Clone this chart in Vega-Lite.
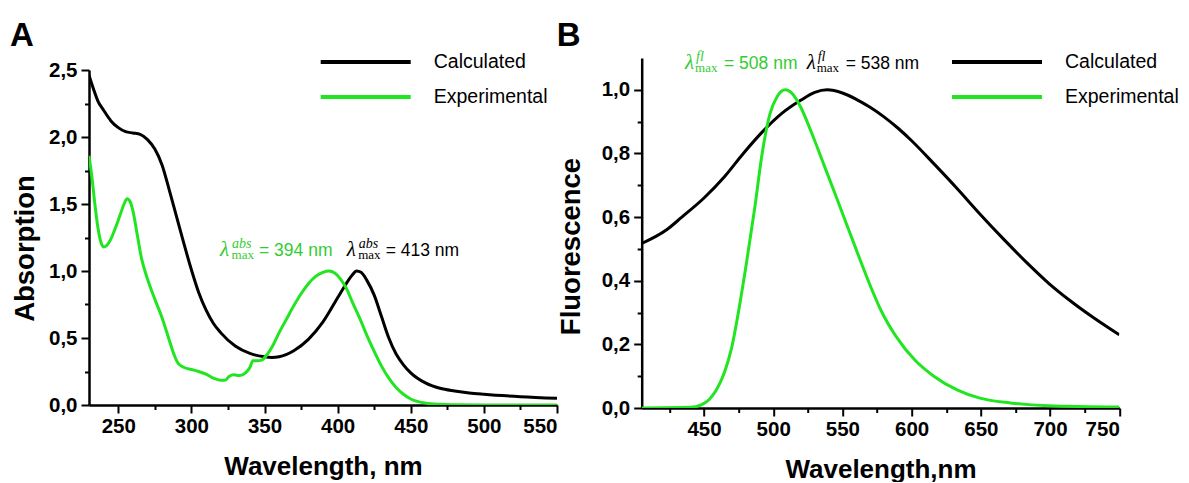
{
  "$schema": "https://vega.github.io/schema/vega-lite/v6.json",
  "padding": {"left": 10, "top": 20, "right": 5, "bottom": 0},
  "background": "white",
  "config": {
    "view": {"stroke": null},
    "font": "Liberation Sans",
    "axis": {"domainColor": "black", "domainWidth": 2.5, "tickColor": "black", "tickWidth": 2, "labelFont": "Liberation Sans", "labelFontWeight": "bold", "labelFontSize": 20.5, "labelColor": "black", "titleFont": "Liberation Sans", "titleFontWeight": "bold", "titleFontSize": 26, "titleColor": "black", "grid": false, "labelOverlap": false},
    "legend": {"orient": "none", "title": null, "symbolType": "M-3,0H3", "symbolSize": 900, "symbolStrokeWidth": 4, "labelFontSize": 19.5, "labelFont": "Liberation Sans", "labelColor": "black", "labelOffset": 51, "rowPadding": 8, "padding": 0},
    "title": {"anchor": "start", "frame": "group", "fontSize": 33, "fontWeight": "bold", "font": "Liberation Sans", "color": "black", "offset": -8}
  },
  "datasets": {
    "absA": [
      {"series": "Calculated", "wavelength": 230, "value": 2.46}, {"series": "Calculated", "wavelength": 233, "value": 2.36}, {"series": "Calculated", "wavelength": 236, "value": 2.27}, {"series": "Calculated", "wavelength": 240, "value": 2.2}, {"series": "Calculated", "wavelength": 245, "value": 2.12}, {"series": "Calculated", "wavelength": 250, "value": 2.07}, {"series": "Calculated", "wavelength": 255, "value": 2.04}, {"series": "Calculated", "wavelength": 260, "value": 2.03}, {"series": "Calculated", "wavelength": 265, "value": 2.02}, {"series": "Calculated", "wavelength": 270, "value": 1.98}, {"series": "Calculated", "wavelength": 275, "value": 1.91}, {"series": "Calculated", "wavelength": 280, "value": 1.79}, {"series": "Calculated", "wavelength": 285, "value": 1.6}, {"series": "Calculated", "wavelength": 290, "value": 1.4}, {"series": "Calculated", "wavelength": 295, "value": 1.2}, {"series": "Calculated", "wavelength": 300, "value": 1.01}, {"series": "Calculated", "wavelength": 305, "value": 0.84}, {"series": "Calculated", "wavelength": 310, "value": 0.71}, {"series": "Calculated", "wavelength": 315, "value": 0.61}, {"series": "Calculated", "wavelength": 320, "value": 0.54}, {"series": "Calculated", "wavelength": 330, "value": 0.44}, {"series": "Calculated", "wavelength": 340, "value": 0.385}, {"series": "Calculated", "wavelength": 350, "value": 0.36}, {"series": "Calculated", "wavelength": 355, "value": 0.355}, {"series": "Calculated", "wavelength": 360, "value": 0.36}, {"series": "Calculated", "wavelength": 370, "value": 0.405}, {"series": "Calculated", "wavelength": 380, "value": 0.49}, {"series": "Calculated", "wavelength": 390, "value": 0.62}, {"series": "Calculated", "wavelength": 400, "value": 0.8}, {"series": "Calculated", "wavelength": 405, "value": 0.89}, {"series": "Calculated", "wavelength": 410, "value": 0.97}, {"series": "Calculated", "wavelength": 413, "value": 1.0}, {"series": "Calculated", "wavelength": 416, "value": 0.99}, {"series": "Calculated", "wavelength": 420, "value": 0.93}, {"series": "Calculated", "wavelength": 425, "value": 0.82}, {"series": "Calculated", "wavelength": 430, "value": 0.66}, {"series": "Calculated", "wavelength": 435, "value": 0.5}, {"series": "Calculated", "wavelength": 440, "value": 0.38}, {"series": "Calculated", "wavelength": 445, "value": 0.3}, {"series": "Calculated", "wavelength": 450, "value": 0.24}, {"series": "Calculated", "wavelength": 460, "value": 0.165}, {"series": "Calculated", "wavelength": 470, "value": 0.125}, {"series": "Calculated", "wavelength": 480, "value": 0.105}, {"series": "Calculated", "wavelength": 490, "value": 0.09}, {"series": "Calculated", "wavelength": 500, "value": 0.08}, {"series": "Calculated", "wavelength": 525, "value": 0.062}, {"series": "Calculated", "wavelength": 550, "value": 0.05},
      {"series": "Experimental", "wavelength": 230, "value": 1.86}, {"series": "Experimental", "wavelength": 232, "value": 1.7}, {"series": "Experimental", "wavelength": 234, "value": 1.5}, {"series": "Experimental", "wavelength": 236, "value": 1.33}, {"series": "Experimental", "wavelength": 238, "value": 1.22}, {"series": "Experimental", "wavelength": 240, "value": 1.18}, {"series": "Experimental", "wavelength": 242, "value": 1.19}, {"series": "Experimental", "wavelength": 245, "value": 1.24}, {"series": "Experimental", "wavelength": 248, "value": 1.32}, {"series": "Experimental", "wavelength": 251, "value": 1.41}, {"series": "Experimental", "wavelength": 254, "value": 1.5}, {"series": "Experimental", "wavelength": 256, "value": 1.54}, {"series": "Experimental", "wavelength": 258, "value": 1.52}, {"series": "Experimental", "wavelength": 260, "value": 1.45}, {"series": "Experimental", "wavelength": 263, "value": 1.27}, {"series": "Experimental", "wavelength": 266, "value": 1.09}, {"series": "Experimental", "wavelength": 270, "value": 0.94}, {"series": "Experimental", "wavelength": 275, "value": 0.79}, {"series": "Experimental", "wavelength": 280, "value": 0.65}, {"series": "Experimental", "wavelength": 285, "value": 0.48}, {"series": "Experimental", "wavelength": 288, "value": 0.38}, {"series": "Experimental", "wavelength": 291, "value": 0.31}, {"series": "Experimental", "wavelength": 295, "value": 0.28}, {"series": "Experimental", "wavelength": 300, "value": 0.265}, {"series": "Experimental", "wavelength": 305, "value": 0.25}, {"series": "Experimental", "wavelength": 310, "value": 0.23}, {"series": "Experimental", "wavelength": 315, "value": 0.2}, {"series": "Experimental", "wavelength": 320, "value": 0.185}, {"series": "Experimental", "wavelength": 323, "value": 0.185}, {"series": "Experimental", "wavelength": 326, "value": 0.215}, {"series": "Experimental", "wavelength": 329, "value": 0.225}, {"series": "Experimental", "wavelength": 333, "value": 0.22}, {"series": "Experimental", "wavelength": 337, "value": 0.24}, {"series": "Experimental", "wavelength": 340, "value": 0.28}, {"series": "Experimental", "wavelength": 342, "value": 0.33}, {"series": "Experimental", "wavelength": 345, "value": 0.33}, {"series": "Experimental", "wavelength": 348, "value": 0.335}, {"series": "Experimental", "wavelength": 352, "value": 0.38}, {"series": "Experimental", "wavelength": 356, "value": 0.45}, {"series": "Experimental", "wavelength": 360, "value": 0.54}, {"series": "Experimental", "wavelength": 365, "value": 0.64}, {"series": "Experimental", "wavelength": 370, "value": 0.74}, {"series": "Experimental", "wavelength": 375, "value": 0.83}, {"series": "Experimental", "wavelength": 380, "value": 0.905}, {"series": "Experimental", "wavelength": 385, "value": 0.96}, {"series": "Experimental", "wavelength": 390, "value": 0.99}, {"series": "Experimental", "wavelength": 394, "value": 1.0}, {"series": "Experimental", "wavelength": 398, "value": 0.985}, {"series": "Experimental", "wavelength": 402, "value": 0.94}, {"series": "Experimental", "wavelength": 406, "value": 0.87}, {"series": "Experimental", "wavelength": 410, "value": 0.77}, {"series": "Experimental", "wavelength": 415, "value": 0.65}, {"series": "Experimental", "wavelength": 420, "value": 0.52}, {"series": "Experimental", "wavelength": 425, "value": 0.4}, {"series": "Experimental", "wavelength": 430, "value": 0.29}, {"series": "Experimental", "wavelength": 435, "value": 0.2}, {"series": "Experimental", "wavelength": 440, "value": 0.13}, {"series": "Experimental", "wavelength": 445, "value": 0.08}, {"series": "Experimental", "wavelength": 450, "value": 0.045}, {"series": "Experimental", "wavelength": 455, "value": 0.025}, {"series": "Experimental", "wavelength": 460, "value": 0.014}, {"series": "Experimental", "wavelength": 470, "value": 0.005}, {"series": "Experimental", "wavelength": 480, "value": 0.002}, {"series": "Experimental", "wavelength": 500, "value": 0.0}, {"series": "Experimental", "wavelength": 550, "value": 0.0}
    ],
    "flB": [
      {"series": "Calculated", "wavelength": 405, "value": 0.517}, {"series": "Calculated", "wavelength": 423, "value": 0.56}, {"series": "Calculated", "wavelength": 434, "value": 0.6}, {"series": "Calculated", "wavelength": 450, "value": 0.66}, {"series": "Calculated", "wavelength": 464.6, "value": 0.726}, {"series": "Calculated", "wavelength": 478.4, "value": 0.8}, {"series": "Calculated", "wavelength": 492, "value": 0.867}, {"series": "Calculated", "wavelength": 506, "value": 0.925}, {"series": "Calculated", "wavelength": 519.8, "value": 0.967}, {"series": "Calculated", "wavelength": 530, "value": 0.992}, {"series": "Calculated", "wavelength": 539, "value": 1.0}, {"series": "Calculated", "wavelength": 550, "value": 0.99}, {"series": "Calculated", "wavelength": 560, "value": 0.97}, {"series": "Calculated", "wavelength": 570, "value": 0.945}, {"series": "Calculated", "wavelength": 580, "value": 0.915}, {"series": "Calculated", "wavelength": 590, "value": 0.88}, {"series": "Calculated", "wavelength": 600, "value": 0.84}, {"series": "Calculated", "wavelength": 616, "value": 0.768}, {"series": "Calculated", "wavelength": 632.8, "value": 0.69}, {"series": "Calculated", "wavelength": 649.3, "value": 0.61}, {"series": "Calculated", "wavelength": 665.9, "value": 0.533}, {"series": "Calculated", "wavelength": 682.4, "value": 0.46}, {"series": "Calculated", "wavelength": 699, "value": 0.392}, {"series": "Calculated", "wavelength": 715.5, "value": 0.334}, {"series": "Calculated", "wavelength": 732, "value": 0.282}, {"series": "Calculated", "wavelength": 750, "value": 0.23},
      {"series": "Experimental", "wavelength": 405, "value": 0.0}, {"series": "Experimental", "wavelength": 440, "value": 0.002}, {"series": "Experimental", "wavelength": 448, "value": 0.01}, {"series": "Experimental", "wavelength": 453.6, "value": 0.026}, {"series": "Experimental", "wavelength": 459, "value": 0.057}, {"series": "Experimental", "wavelength": 464.6, "value": 0.11}, {"series": "Experimental", "wavelength": 470, "value": 0.19}, {"series": "Experimental", "wavelength": 475.6, "value": 0.32}, {"series": "Experimental", "wavelength": 481, "value": 0.465}, {"series": "Experimental", "wavelength": 486.7, "value": 0.63}, {"series": "Experimental", "wavelength": 492, "value": 0.8}, {"series": "Experimental", "wavelength": 497.7, "value": 0.925}, {"series": "Experimental", "wavelength": 503, "value": 0.98}, {"series": "Experimental", "wavelength": 508.7, "value": 1.0}, {"series": "Experimental", "wavelength": 514, "value": 0.987}, {"series": "Experimental", "wavelength": 519.8, "value": 0.946}, {"series": "Experimental", "wavelength": 528, "value": 0.862}, {"series": "Experimental", "wavelength": 536.3, "value": 0.768}, {"series": "Experimental", "wavelength": 544.6, "value": 0.674}, {"series": "Experimental", "wavelength": 552.8, "value": 0.58}, {"series": "Experimental", "wavelength": 561, "value": 0.486}, {"series": "Experimental", "wavelength": 569.4, "value": 0.392}, {"series": "Experimental", "wavelength": 577.7, "value": 0.308}, {"series": "Experimental", "wavelength": 588.7, "value": 0.225}, {"series": "Experimental", "wavelength": 602.5, "value": 0.15}, {"series": "Experimental", "wavelength": 616, "value": 0.1}, {"series": "Experimental", "wavelength": 632.8, "value": 0.057}, {"series": "Experimental", "wavelength": 649.3, "value": 0.031}, {"series": "Experimental", "wavelength": 671.4, "value": 0.016}, {"series": "Experimental", "wavelength": 699, "value": 0.007}, {"series": "Experimental", "wavelength": 750, "value": 0.003}
    ],
    "annA": [
      {"series": "Experimental", "wavelength": 319.6, "value": 1.112, "lam": "λ", "sub": "max", "sup": "abs", "val": "= 394 nm"},
      {"series": "Calculated", "wavelength": 406.2, "value": 1.112, "lam": "λ", "sub": "max", "sup": "abs", "val": "= 413 nm"}
    ],
    "annB": [
      {"series": "Experimental", "wavelength": 436.3, "value": 1.065, "lam": "λ", "sub": "max", "sup": "fl", "val": "= 508 nm"},
      {"series": "Calculated", "wavelength": 524.2, "value": 1.065, "lam": "λ", "sub": "max", "sup": "fl", "val": "= 538 nm"}
    ]
  },
  "bounds": "flush",
  "spacing": 84.7,
  "resolve": {"legend": {"color": "independent"}, "scale": {"color": "independent"}},
  "hconcat": [
    {
      "width": 468,
      "height": 347,
      "title": {"text": "A", "dx": -79},
      "encoding": {
        "x": {"field": "wavelength", "type": "quantitative", "scale": {"domain": [230, 550], "nice": false, "zero": false},
          "axis": {"title": "Wavelength, nm", "values": [250, 275, 300, 325, 350, 375, 400, 425, 450, 475, 500, 525, 550], "labelExpr": "datum.value % 50 == 0 ? datum.label : ''", "tickSize": {"condition": {"test": "datum.value % 50 == 0", "value": 8}, "value": 4.5}, "labelPadding": 3, "titleY": 69, "titleBaseline": "alphabetic"}},
        "y": {"field": "value", "type": "quantitative", "scale": {"domain": [0, 2.5], "range": [347, 12], "nice": false},
          "axis": {"title": "Absorption", "titleFontSize": 27.5, "values": [0, 0.25, 0.5, 0.75, 1, 1.25, 1.5, 1.75, 2, 2.25, 2.5], "labelExpr": "(datum.value * 2) % 1 == 0 ? replace(format(datum.value, '.1f'), '.', ',') : ''", "tickSize": {"condition": {"test": "(datum.value * 2) % 1 == 0", "value": 8}, "value": 4.5}, "labelPadding": 4, "titlePadding": 9, "titleY": 190}}
      },
      "layer": [
        {
          "data": {"name": "absA"},
          "mark": {"type": "line", "strokeWidth": 3, "interpolate": "monotone", "clip": true},
          "encoding": {
            "color": {"field": "series", "type": "nominal", "scale": {"domain": ["Calculated", "Experimental"], "range": ["black", "#22e522"]}, "legend": {"legendX": 259.7, "legendY": -13}}
          }
        },
        {
          "data": {"name": "annA"},
          "mark": {"type": "text", "align": "left", "baseline": "alphabetic", "font": "Liberation Serif", "fontStyle": "italic", "fontSize": 21},
          "encoding": {"text": {"field": "lam"}, "color": {"condition": {"test": "datum.series == 'Experimental'", "value": "#33cc33"}, "value": "black"}}
        },
        {
          "data": {"name": "annA"},
          "mark": {"type": "text", "align": "left", "baseline": "alphabetic", "font": "Liberation Serif", "fontSize": 13, "dx": 11.5, "dy": 3},
          "encoding": {"text": {"field": "sub"}, "color": {"condition": {"test": "datum.series == 'Experimental'", "value": "#33cc33"}, "value": "black"}}
        },
        {
          "data": {"name": "annA"},
          "mark": {"type": "text", "align": "left", "baseline": "alphabetic", "font": "Liberation Serif", "fontStyle": "italic", "fontSize": 14, "dx": 12, "dy": -8},
          "encoding": {"text": {"field": "sup"}, "color": {"condition": {"test": "datum.series == 'Experimental'", "value": "#33cc33"}, "value": "black"}}
        },
        {
          "data": {"name": "annA"},
          "mark": {"type": "text", "align": "left", "baseline": "alphabetic", "font": "Liberation Sans", "fontSize": 17.5, "dx": 39},
          "encoding": {"text": {"field": "val"}, "color": {"condition": {"test": "datum.series == 'Experimental'", "value": "#33cc33"}, "value": "black"}}
        }
      ]
    },
    {
      "width": 477.6,
      "height": 350,
      "title": {"text": "B", "dx": -85},
      "encoding": {
        "x": {"field": "wavelength", "type": "quantitative", "scale": {"domain": [405, 750], "nice": false, "zero": false},
          "axis": {"title": "Wavelength,nm", "values": [425, 450, 475, 500, 525, 550, 575, 600, 625, 650, 675, 700, 725, 750], "labelExpr": "datum.value % 50 == 0 ? datum.label : ''", "tickSize": {"condition": {"test": "datum.value % 50 == 0", "value": 8}, "value": 4.5}, "labelPadding": 3, "titleY": 69, "titleBaseline": "alphabetic"}},
        "y": {"field": "value", "type": "quantitative", "scale": {"domain": [0, 1.1], "nice": false},
          "axis": {"title": "Fluorescence", "titleFontSize": 27.5, "values": [0, 0.1, 0.2, 0.3, 0.4, 0.5, 0.6, 0.7, 0.8, 0.9, 1.0], "labelExpr": "round(datum.value * 10) % 2 == 0 ? replace(format(datum.value, '.1f'), '.', ',') : ''", "tickSize": {"condition": {"test": "round(datum.value * 10) % 2 == 0", "value": 8}, "value": 4.5}, "labelPadding": 4, "titlePadding": 16, "titleY": 188}}
      },
      "layer": [
        {
          "data": {"name": "flB"},
          "mark": {"type": "line", "strokeWidth": 3, "interpolate": "monotone", "clip": true},
          "encoding": {
            "color": {"field": "series", "type": "nominal", "scale": {"domain": ["Calculated", "Experimental"], "range": ["black", "#22e522"]}, "legend": {"legendX": 338.3, "legendY": -13}}
          }
        },
        {
          "data": {"name": "annB"},
          "mark": {"type": "text", "align": "left", "baseline": "alphabetic", "font": "Liberation Serif", "fontStyle": "italic", "fontSize": 21},
          "encoding": {"text": {"field": "lam"}, "color": {"condition": {"test": "datum.series == 'Experimental'", "value": "#33cc33"}, "value": "black"}}
        },
        {
          "data": {"name": "annB"},
          "mark": {"type": "text", "align": "left", "baseline": "alphabetic", "font": "Liberation Serif", "fontSize": 13, "dx": 10, "dy": 3},
          "encoding": {"text": {"field": "sub"}, "color": {"condition": {"test": "datum.series == 'Experimental'", "value": "#33cc33"}, "value": "black"}}
        },
        {
          "data": {"name": "annB"},
          "mark": {"type": "text", "align": "left", "baseline": "alphabetic", "font": "Liberation Serif", "fontStyle": "italic", "fontSize": 14, "dx": 11, "dy": -8},
          "encoding": {"text": {"field": "sup"}, "color": {"condition": {"test": "datum.series == 'Experimental'", "value": "#33cc33"}, "value": "black"}}
        },
        {
          "data": {"name": "annB"},
          "mark": {"type": "text", "align": "left", "baseline": "alphabetic", "font": "Liberation Sans", "fontSize": 17.5, "dx": 39},
          "encoding": {"text": {"field": "val"}, "color": {"condition": {"test": "datum.series == 'Experimental'", "value": "#33cc33"}, "value": "black"}}
        }
      ]
    }
  ]
}
